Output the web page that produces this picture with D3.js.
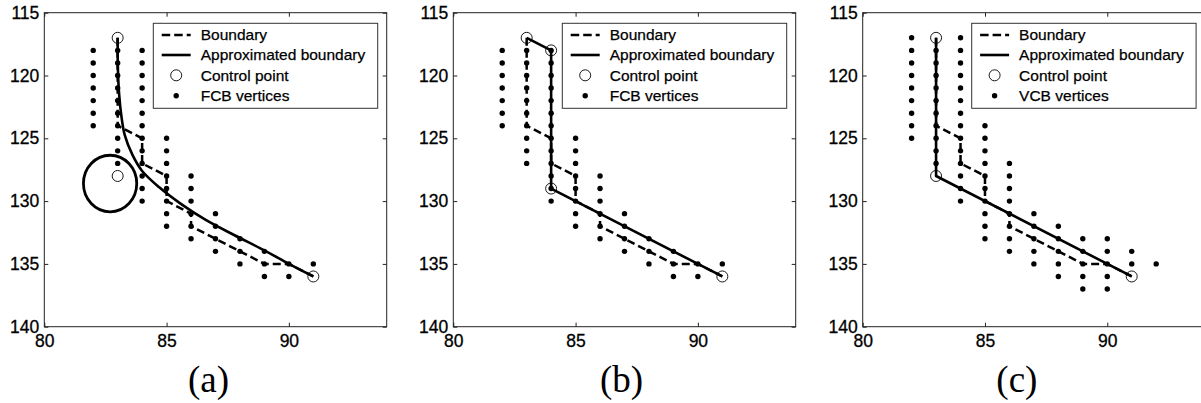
<!DOCTYPE html>
<html>
<head>
<meta charset="utf-8">
<script src="https://cdn.jsdelivr.net/npm/d3@7"></script>
<style>
  body { margin: 0; background: #fff; }
  svg { display: block; }
</style>
</head>
<body>
<div id="chart"></div>
<script>
// --- data

const xTicks = [80, 85, 90];
const yTicks = [115, 120, 125, 130, 135, 140];
const captions = ['(a)', '(b)', '(c)'];

// boundary of the cell (dashed)
const boundary = [
  [83, 117], [83, 124], [84, 125], [84, 127], [85, 128], [85, 130], [86, 131],
  [86, 132], [87, 133], [88, 134], [89, 135], [90, 135], [91, 136],
];

// FCB vertices, used by (a) and (b)
const fcbVertices = [
  [82, 118], [82, 119], [82, 120], [82, 121], [82, 122], [82, 123], [82, 124],
  [83, 118], [83, 119], [83, 120], [83, 121], [83, 122], [83, 123], [83, 124], [83, 125], [83, 126], [83, 127],
  [84, 118], [84, 119], [84, 120], [84, 121], [84, 122], [84, 123], [84, 124], [84, 125], [84, 126], [84, 127], [84, 128], [84, 129], [84, 130],
  [85, 125], [85, 126], [85, 127], [85, 128], [85, 129], [85, 130], [85, 131], [85, 132],
  [86, 128], [86, 129], [86, 130], [86, 131], [86, 132], [86, 133],
  [87, 131], [87, 132], [87, 133], [87, 134],
  [88, 133], [88, 134], [88, 135],
  [89, 134], [89, 135], [89, 136],
  [90, 135], [90, 136],
  [91, 135],
];

// VCB vertices, used by (c)
const vcbVertices = [
  [82, 117], [82, 118], [82, 119], [82, 120], [82, 121], [82, 122], [82, 123], [82, 124], [82, 125],
  [83, 118], [83, 119], [83, 120], [83, 121], [83, 122], [83, 123], [83, 124], [83, 125], [83, 126], [83, 127],
  [84, 117], [84, 118], [84, 119], [84, 120], [84, 121], [84, 122], [84, 123], [84, 124], [84, 125], [84, 126], [84, 127], [84, 128], [84, 129], [84, 130],
  [85, 124], [85, 125], [85, 126], [85, 127], [85, 128], [85, 129], [85, 130], [85, 131], [85, 132], [85, 133],
  [86, 127], [86, 128], [86, 129], [86, 130], [86, 131], [86, 132], [86, 133], [86, 134],
  [87, 131], [87, 132], [87, 133], [87, 134], [87, 135],
  [88, 132], [88, 133], [88, 134], [88, 135], [88, 136],
  [89, 133], [89, 134], [89, 135], [89, 136], [89, 137],
  [90, 133], [90, 134], [90, 135], [90, 136], [90, 137],
  [91, 134], [91, 135],
  [92, 135],
];

// control points per panel
const controlA = [[83, 117], [83, 128], [91, 136]];
const controlB = [[83, 117], [84, 118], [84, 129], [91, 136]];
const controlC = [[83, 117], [83, 128], [91, 136]];

// approximated boundary per panel ((a) is a curve, read at several points)
const approxA = [
  [83, 117], [83.01, 119.5], [83.06, 121.5], [83.15, 123.2], [83.29, 124.75],
  [83.6, 126.3], [84, 127.6], [84.7, 128.9], [85.57, 130.2], [86.6, 131.5],
  [87.76, 132.7], [89.07, 134.0], [90, 135.0], [91, 136],
];
const approxB = [[83, 117], [84, 118], [84, 129], [91, 136]];
const approxC = [[83, 117], [83, 128], [91, 136]];

// weight circle around the middle control point in (a): [cx, cy, rx, ry] in data units
const weightA = [82.69, 128.6, 1.09, 2.25];

const legendLabels = [
  ['Boundary', 'Approximated boundary', 'Control point', 'FCB vertices'],
  ['Boundary', 'Approximated boundary', 'Control point', 'FCB vertices'],
  ['Boundary', 'Approximated boundary', 'Control point', 'VCB vertices'],
];

const panels = [
  { vertices: fcbVertices, control: controlA, approx: approxA, curved: true, weight: weightA },
  { vertices: fcbVertices, control: controlB, approx: approxB, curved: false, weight: null },
  { vertices: vcbVertices, control: controlC, approx: approxC, curved: false, weight: null },
];

// --- layout

const svgWidth = 1201, svgHeight = 403;
const panelLefts = [44.3, 453.3, 862.7];
const captionShift = [-7, -3, -17];
const plotTop = 12.7;
const plotW = 342.4, plotH = 314;
const sansFont = '"Liberation Sans", Arial, sans-serif';

const svg = d3.select('#chart').append('svg')
  .attr('width', svgWidth)
  .attr('height', svgHeight);

const x = d3.scaleLinear().domain([80, 94]).range([0, plotW]);
const y = d3.scaleLinear().domain([115, 140]).range([0, plotH]);

const straight = d3.line().x(d => x(d[0])).y(d => y(d[1]));
const smooth = d3.line().x(d => x(d[0])).y(d => y(d[1])).curve(d3.curveCatmullRom.alpha(0.5));

panels.forEach((p, i) => {
  const g = svg.append('g')
    .attr('transform', `translate(${panelLefts[i]}, ${plotTop})`);

  // frame
  g.append('rect')
    .attr('width', plotW)
    .attr('height', plotH)
    .attr('fill', 'none')
    .attr('stroke', '#222')
    .attr('stroke-width', 1);

  // axes, ticks pointing in
  const styleAxis = a => {
    a.select('.domain').remove();
    a.selectAll('line').attr('stroke', '#222');
    a.selectAll('text')
      .attr('fill', '#000')
      .attr('stroke', '#000')
      .attr('stroke-width', 0.3)
      .style('font-family', sansFont)
      .style('font-size', '17.5px');
  };
  g.append('g')
    .attr('transform', `translate(0, ${plotH})`)
    .call(d3.axisBottom(x).tickValues(xTicks).tickSize(-4).tickPadding(8).tickFormat(d3.format('d')))
    .call(styleAxis);
  g.append('g')
    .call(d3.axisLeft(y).tickValues(yTicks).tickSize(-4).tickPadding(5).tickFormat(d3.format('d')))
    .call(styleAxis);
  g.append('g')
    .call(d3.axisTop(x).tickValues(xTicks).tickSize(-4).tickFormat(''))
    .call(styleAxis);
  g.append('g')
    .attr('transform', `translate(${plotW}, 0)`)
    .call(d3.axisRight(y).tickValues(yTicks).tickSize(-4).tickFormat(''))
    .call(styleAxis);

  // vertices
  g.selectAll('circle.vertex')
    .data(p.vertices)
    .enter()
    .append('circle')
    .attr('class', 'vertex')
    .attr('cx', d => x(d[0]))
    .attr('cy', d => y(d[1]))
    .attr('r', 2.7)
    .attr('fill', '#000');

  // boundary
  g.append('path')
    .datum(boundary)
    .attr('d', straight)
    .attr('fill', 'none')
    .attr('stroke', '#000')
    .attr('stroke-width', 2.5)
    .attr('stroke-dasharray', '8,4');

  // approximated boundary
  g.append('path')
    .datum(p.approx)
    .attr('d', p.curved ? smooth : straight)
    .attr('fill', 'none')
    .attr('stroke', '#000')
    .attr('stroke-width', 2.6)
    .attr('stroke-linejoin', 'round');

  if (p.weight) {
    const [cx, cy, rx, ry] = p.weight;
    g.append('ellipse')
      .attr('cx', x(cx))
      .attr('cy', y(cy))
      .attr('rx', x(80 + rx) - x(80))
      .attr('ry', y(115 + ry) - y(115))
      .attr('fill', 'none')
      .attr('stroke', '#000')
      .attr('stroke-width', 2.8);
  }

  // control points
  g.selectAll('circle.control')
    .data(p.control)
    .enter()
    .append('circle')
    .attr('class', 'control')
    .attr('cx', d => x(d[0]))
    .attr('cy', d => y(d[1]))
    .attr('r', 5.5)
    .attr('fill', 'none')
    .attr('stroke', '#000')
    .attr('stroke-width', 0.9);

  // legend
  const lg = g.append('g')
    .attr('transform', `translate(${plotW - 9 - 224.4}, 10.6)`);
  lg.append('rect')
    .attr('width', 224.4)
    .attr('height', 85)
    .attr('fill', '#fff')
    .attr('stroke', '#333')
    .attr('stroke-width', 1);
  const rowY = [11.7, 31.7, 52, 72.4];
  const labels = legendLabels[i];
  lg.append('line')
    .attr('x1', 8.4).attr('x2', 37.4)
    .attr('y1', rowY[0]).attr('y2', rowY[0])
    .attr('stroke', '#000').attr('stroke-width', 2.5)
    .attr('stroke-dasharray', '8.5,4');
  lg.append('line')
    .attr('x1', 8.4).attr('x2', 37.4)
    .attr('y1', rowY[1]).attr('y2', rowY[1])
    .attr('stroke', '#000').attr('stroke-width', 2.6);
  lg.append('circle')
    .attr('cx', 22.9).attr('cy', rowY[2]).attr('r', 5.5)
    .attr('fill', 'none').attr('stroke', '#000').attr('stroke-width', 0.9);
  lg.append('circle')
    .attr('cx', 22.9).attr('cy', rowY[3]).attr('r', 2.7)
    .attr('fill', '#000');
  lg.selectAll('text')
    .data(labels)
    .enter()
    .append('text')
    .attr('x', 47.4)
    .attr('y', (d, k) => rowY[k])
    .attr('dy', '0.35em')
    .style('font-family', sansFont)
    .style('font-size', '15.5px')
    .attr('fill', '#000')
    .attr('stroke', '#000')
    .attr('stroke-width', 0.25)
    .text(d => d);

  // caption
  svg.append('text')
    .attr('x', panelLefts[i] + plotW / 2 + captionShift[i])
    .attr('y', 392)
    .attr('text-anchor', 'middle')
    .style('font-family', '"Liberation Serif", "Times New Roman", serif')
    .style('font-size', '37px')
    .attr('fill', '#000')
    .text(captions[i]);
});
</script>
</body>
</html>
